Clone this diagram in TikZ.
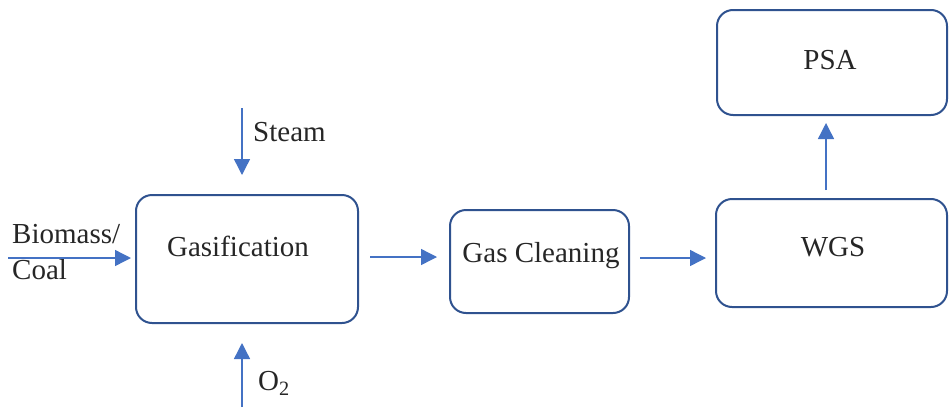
\documentclass[tikz,border=0pt]{standalone}
\usepackage{fontspec}
\setmainfont{Liberation Serif}
\usetikzlibrary{arrows.meta}
\definecolor{boxline}{HTML}{2F528F}
\definecolor{flow}{HTML}{4472C4}
\begin{document}
\begin{tikzpicture}[x=1pt,y=-1pt,
  unit/.style={draw=boxline,line width=2pt,rounded corners=16pt},
  flowarrow/.style={draw=flow,line width=1.4pt,-{Triangle[length=16pt,width=16pt]}},
  lbl/.style={font=\fontsize{29}{34}\selectfont,inner sep=0pt,text=black!85}]
\useasboundingbox (0,0) rectangle (949,407);
% process units
\draw[unit] (136,195) rectangle (358,323);
\draw[unit] (450,210) rectangle (629,313);
\draw[unit] (716,199) rectangle (947,307);
\draw[unit] (717,10) rectangle (947,115);
\node[lbl] (gas) at (238,246) {Gasification};
\node[lbl] (clean) at (541,256) {Gas Cleaning};
\node[lbl] (wgs) at (833,247) {WGS};
\node[lbl] (psa) at (830,60) {PSA};
% feed labels
\node[lbl,anchor=west] (bio) at (12,234) {Biomass/};
\node[lbl,anchor=west] (coal) at (12,270) {Coal};
\node[lbl,anchor=west] (steam) at (253,132) {Steam};
\node[lbl,anchor=west] (oxy) at (258,383) {O$_{\mathrm{2}}$};
% connectors
\coordinate (bioin) at (8,258);
\coordinate (bioend) at (131,258);
\coordinate (stin) at (242,108);
\coordinate (stend) at (242,175);
\coordinate (oxin) at (242,407);
\coordinate (oxend) at (242,343);
\coordinate (g1) at (370,257);
\coordinate (g2) at (437,257);
\coordinate (c1) at (640,258);
\coordinate (c2) at (706,258);
\coordinate (w1) at (826,190);
\coordinate (w2) at (826,123);
\draw[flowarrow] (bioin) -- (bioend);
\draw[flowarrow] (stin) -- (stend);
\draw[flowarrow] (oxin) -- (oxend);
\draw[flowarrow] (g1) -- (g2);
\draw[flowarrow] (c1) -- (c2);
\draw[flowarrow] (w1) -- (w2);
\end{tikzpicture}
\end{document}
